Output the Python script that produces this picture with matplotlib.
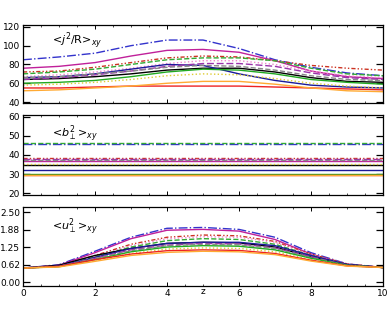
import numpy as np
import matplotlib
matplotlib.use("Agg")
import matplotlib.pyplot as plt
from matplotlib.ticker import MultipleLocator, FixedLocator

# DATA

Z = [0, 1, 2, 3, 4, 5, 6, 7, 8, 9, 10]

# style of each run (same order in every panel)
COLORS = ["#3333cc", "#c0209a", "#cc3322", "#ee88cc", "#33aa33", "#000000",
          "#1a1a99", "#9933aa", "#888888", "#22aa22", "#ddcc33", "#ee2222",
          "#ffaa33"]
STYLES = ["-.", "-", (0, (3, 1.5, 1, 1.5, 1, 1.5)), ":", "--", "-",
          "-", (0, (5, 2)), "--", "-", ":", "-", "-"]

# <j^2/R>_xy
J2R = [
    [85, 88, 92, 100, 106, 106, 97, 85, 77, 71, 68],
    [76, 78, 82, 89, 95, 96, 93, 84, 73, 67, 65],
    [72, 73, 77, 82, 87, 89, 88, 84, 79, 76, 74],
    [67, 69, 72, 76, 81, 84, 84, 80, 73, 68, 66],
    [70, 72, 75, 80, 85, 87, 87, 84, 76, 70, 68],
    [64, 65, 67, 70, 74, 76, 76, 72, 66, 62, 61],
    [66, 67, 70, 75, 80, 79, 70, 63, 58, 56, 55],
    [64, 66, 69, 73, 78, 81, 81, 78, 71, 66, 64],
    [66, 67, 70, 73, 77, 79, 78, 74, 68, 64, 63],
    [60, 61, 63, 67, 72, 75, 74, 70, 64, 61, 59],
    [58, 59, 61, 64, 68, 70, 69, 65, 60, 57, 55],
    [55, 55, 56, 57, 57, 57, 57, 56, 55, 54, 53],
    [52, 53, 55, 57, 60, 62, 62, 59, 55, 52, 51],
]

# <b_perp^2>_xy (flat in z)
B2 = [46, 37, 38.5, 38, 46.3, 35, 32, 38, 37.5, 30, 35.5, 29.5, 29.3]

# <u_perp^2>_xy
U2 = [
    [0.5, 0.62, 1.10, 1.60, 1.92, 1.95, 1.88, 1.60, 1.05, 0.65, 0.52],
    [0.5, 0.60, 1.05, 1.55, 1.85, 1.88, 1.82, 1.52, 1.00, 0.63, 0.52],
    [0.5, 0.58, 0.95, 1.35, 1.60, 1.68, 1.65, 1.45, 1.00, 0.65, 0.52],
    [0.5, 0.58, 0.92, 1.30, 1.55, 1.62, 1.60, 1.42, 0.98, 0.64, 0.52],
    [0.5, 0.57, 0.90, 1.25, 1.48, 1.55, 1.52, 1.35, 0.95, 0.62, 0.52],
    [0.5, 0.60, 0.95, 1.20, 1.38, 1.42, 1.40, 1.25, 0.90, 0.62, 0.52],
    [0.5, 0.57, 0.88, 1.20, 1.38, 1.42, 1.42, 1.30, 0.95, 0.63, 0.52],
    [0.5, 0.56, 0.85, 1.15, 1.32, 1.38, 1.36, 1.22, 0.90, 0.60, 0.52],
    [0.5, 0.56, 0.84, 1.12, 1.30, 1.35, 1.33, 1.20, 0.88, 0.60, 0.52],
    [0.5, 0.55, 0.80, 1.08, 1.25, 1.30, 1.28, 1.15, 0.85, 0.60, 0.52],
    [0.5, 0.55, 0.78, 1.02, 1.18, 1.22, 1.20, 1.08, 0.80, 0.58, 0.52],
    [0.5, 0.56, 0.80, 1.00, 1.12, 1.15, 1.13, 1.02, 0.78, 0.58, 0.52],
    [0.5, 0.54, 0.74, 0.95, 1.06, 1.10, 1.08, 0.98, 0.75, 0.57, 0.52],
]

J_TICKS = [40, 60, 80, 100, 120]
B_TICKS = [20, 30, 40, 50, 60]
U_TICKS = [0.0, 0.625, 1.25, 1.875, 2.5]
U_LABELS = ["0.00", "0.62", "1.25", "1.88", "2.50"]

# FIGURE

W, H = 390, 311
fig = plt.figure(figsize=(W / 100, H / 100), dpi=100)
plt.rcParams["font.family"] = "DejaVu Sans"


def make_ax(top, bottom):
    ax = fig.add_axes([23 / W, 1 - bottom / H, 360 / W, (bottom - top) / H])
    ax.set_xlim(0, 10)
    ax.xaxis.set_major_locator(MultipleLocator(2))
    ax.xaxis.set_minor_locator(MultipleLocator(0.5))
    ax.tick_params(axis="both", which="both", direction="in",
                   top=True, right=True, labelsize=6.5, pad=2)
    ax.tick_params(axis="y", which="major", length=5, width=0.9)
    ax.tick_params(axis="x", which="major", length=3, width=0.7)
    ax.tick_params(axis="x", which="minor", length=1.5, width=0.5)
    for s in ax.spines.values():
        s.set_linewidth(0.9)
    return ax


ax1 = make_ax(25, 103)
ax2 = make_ax(115, 195)
ax3 = make_ax(207, 286)

for vals, c, ls in zip(J2R, COLORS, STYLES):
    ax1.plot(Z, vals, color=c, linestyle=ls, linewidth=1.0)
for val, c, ls in zip(B2, COLORS, STYLES):
    ax2.plot([Z[0], Z[-1]], [val, val], color=c, linestyle=ls, linewidth=1.0)
for vals, c, ls in zip(U2, COLORS, STYLES):
    ax3.plot(Z, vals, color=c, linestyle=ls, linewidth=1.0)

ax1.set_ylim(39, 122)
ax1.yaxis.set_major_locator(FixedLocator(J_TICKS))
ax2.set_ylim(19, 61)
ax2.yaxis.set_major_locator(FixedLocator(B_TICKS))
ax3.set_ylim(-0.14, 2.68)
ax3.set_yticks(U_TICKS)
ax3.set_yticklabels(U_LABELS)

ax1.tick_params(labelbottom=False)
ax2.tick_params(labelbottom=False)

ax1.text(0.08, 0.94, r"<$j^2$/R>$_{xy}$", transform=ax1.transAxes,
         ha="left", va="top", fontsize=8)
ax2.text(0.08, 0.90, r"<$b_\perp^2$>$_{xy}$", transform=ax2.transAxes,
         ha="left", va="top", fontsize=8)
ax3.text(0.08, 0.89, r"<$u_\perp^2$>$_{xy}$", transform=ax3.transAxes,
         ha="left", va="top", fontsize=8)

fig.text(203 / W, 1 - 291 / H, "z", ha="center", va="center", fontsize=6.5)

fig.savefig("out.png", dpi=100)
